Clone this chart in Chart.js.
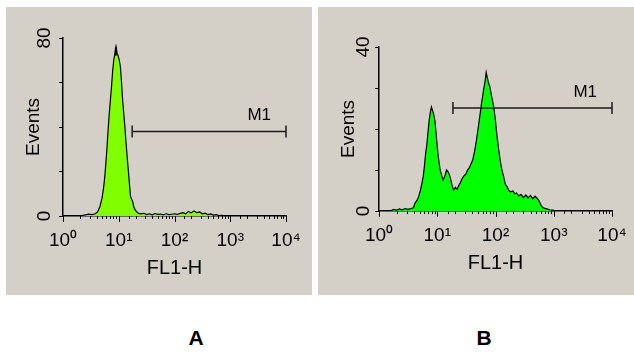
<!DOCTYPE html>
<html>
<head>
<meta charset="utf-8">
<script src="https://cdn.jsdelivr.net/npm/chart.js@4/dist/chart.umd.min.js"></script>
<style>
    body { margin: 0; background: #ffffff; width: 634px; height: 352px; position: relative; overflow: hidden; }
    canvas { position: absolute; background: #d4d0c8; }
    #panelA { left: 6px; top: 7px; }
    #panelB { left: 318px; top: 7px; }
    .tag { position: absolute; top: 326px; width: 40px; text-align: center;
           font: bold 21px 'Liberation Sans', Arial, sans-serif; color: #000; }
</style>
</head>
<body>
<canvas id="panelA" width="306" height="288"></canvas>
<canvas id="panelB" width="316" height="288"></canvas>
<div class="tag" style="left:176px">A</div>
<div class="tag" style="left:464px">B</div>
<script>
// x tick labels (log decades)
const xTickLabels = ['10\u2070', '10\u00b9', '10\u00b2', '10\u00b3', '10\u2074'];

// panel A: channel position (log10 of FL1-H) and events per channel
const logA = [0.30,0.40,0.46,0.52,0.58,0.62,0.66,0.70,0.73,0.75,0.77,0.79,0.81,0.83,0.85,0.87,0.89,0.91,0.93,0.94,
    0.95,0.96,0.97,0.99,1.01,1.03,1.05,1.07,1.09,1.11,1.13,1.15,1.17,1.19,1.21,1.23,1.25,1.27,1.30,1.34,
    1.38,1.45,1.50,1.55,1.60,1.65,1.70,1.75,1.80,1.85,1.90,1.95,2.00,2.05,2.10,2.15,2.20,2.25,2.30,2.35,
    2.40,2.45,2.50,2.55,2.60,2.65,2.70,2.75,2.80,2.85,2.90];
const eventsA = [0,0.5,0.8,0.6,1.0,1.8,4,8,13,18,24,31,39,46,52,58,65,70,73,75,
    72,75,73,72,70,67,60,52,46,40,33,27,21,15,9,7.5,6.5,4,2.5,1.5,
    1.0,1.2,0.6,1.0,0.5,1.1,0.7,0.9,0.5,1.0,0.6,0.8,1.0,0.7,1.2,1.5,1.0,2.0,1.4,2.3,
    1.5,1.8,1.0,1.3,0.6,0.9,0.4,0.6,0.2,0.3,0];

// panel B
const logB = [0.20,0.25,0.30,0.35,0.40,0.45,0.50,0.55,0.59,0.62,0.65,0.68,0.71,0.74,0.76,0.78,0.80,0.82,0.84,0.86,
    0.88,0.90,0.92,0.94,0.96,0.98,1.00,1.02,1.05,1.08,1.10,1.13,1.16,1.19,1.22,1.25,1.28,1.31,1.34,1.37,
    1.40,1.43,1.46,1.49,1.52,1.55,1.58,1.61,1.64,1.67,1.70,1.73,1.76,1.78,1.80,1.82,1.84,1.86,1.88,1.90,
    1.92,1.94,1.97,2.00,2.02,2.05,2.08,2.11,2.14,2.17,2.20,2.23,2.26,2.30,2.33,2.36,2.40,2.44,2.48,2.52,
    2.56,2.60,2.64,2.68,2.72,2.75,2.79,2.83,2.88,2.93,2.98,3.05];
const eventsB = [0,0.4,0.2,0.5,0.3,0.6,0.4,0.6,0.8,2.0,2.5,3.5,5,7,8.5,11,14,16,19,22,
    24,25.4,24.5,23.5,22,19,15.7,13,10,8.5,7.6,8.5,10,9.5,8.4,6.5,5.1,5.8,5.3,6.2,
    7,8,8.6,9,10,10.5,11.5,12.5,14.5,17,20,23,26.3,28,30,31.5,33.8,32.5,31.2,30.5,
    29,27.5,25.4,22,19,15.5,12.4,10,8.4,6.5,5.9,5.0,4.7,4.9,4.2,4.4,3.7,4.0,3.3,3.9,
    3.2,3.8,3.0,3.6,3.0,2.4,1.2,0.7,0.5,0.3,0.2,0];

// M1 gates: [start, end] on FL1-H and the height it is drawn at
const gateA = [17.4, 10000];
const gateLevelA = 38;
const gateB = [18.6, 10000];
const gateLevelB = 25.1;

const yMaxA = 80;
const yMaxB = 40;

const FONT = "'Liberation Sans', Arial, sans-serif";

class HistogramPanel {

    constructor(layout){
        this.layout = layout;
    }

    makeDataSet(logs, counts, colour){
        let points = new Array();
        for(let i=0; i<logs.length; i++){
            points.push({x: Math.pow(10, logs[i]), y: counts[i]});
        }
        return {
            data: points,
            borderColor: '#000000',
            borderWidth: 1.2,
            backgroundColor: colour,
            fill: 'origin',
            pointRadius: 0,
            tension: 0
        }
    }

    makeGate(gate, level){
        return {
            data: [{x: gate[0], y: level}, {x: gate[1], y: level}],
            borderColor: '#1a1a1a',
            borderWidth: 1.5,
            pointStyle: 'line',
            pointRotation: 90,
            pointRadius: 6,
            pointBorderWidth: 1.5,
            pointBorderColor: '#1a1a1a',
            fill: false,
            clip: false
        }
    }

    drawChart(ctx, logs, counts, colour, yMax, gate, level){
        let lay = this.layout;
        return new Chart(ctx, {
            type: 'line',
            data: {
                datasets: [this.makeGate(gate, level), this.makeDataSet(logs, counts, colour)]
            },
            options: {
                responsive: false,
                animation: false,
                events: [],
                layout: { padding: {left: 0, top: lay.top, right: lay.right, bottom: 0} },
                plugins: { legend: {display: false}, tooltip: {enabled: false} },
                scales: {
                    x: {
                        type: 'logarithmic',
                        min: 1,
                        max: 10000,
                        afterFit: (s) => { s.height = lay.bottom; },
                        grid: { display: false },
                        border: { display: true, color: '#000000', width: 1.5 },
                        ticks: {
                            autoSkip: false,
                            maxRotation: 0,
                            padding: 5,
                            color: '#000000',
                            font: {family: FONT, size: 19},
                            callback: (v) => {
                                let e = Math.log10(v);
                                return Math.abs(e - Math.round(e)) < 1e-9 ? xTickLabels[Math.round(e)] : '';
                            }
                        },
                        title: {
                            display: true,
                            text: 'FL1-H',
                            color: '#000000',
                            font: {family: FONT, size: 20},
                            padding: {top: 0, bottom: lay.titleX}
                        }
                    },
                    y: {
                        min: 0,
                        max: yMax,
                        afterFit: (s) => { s.width = lay.left; },
                        grid: { drawOnChartArea: false, drawTicks: true, tickLength: 4, color: '#000000' },
                        border: { display: true, color: '#000000', width: 1.5 },
                        ticks: {
                            stepSize: yMax / 4,
                            minRotation: 90,
                            maxRotation: 90,
                            crossAlign: 'center',
                            padding: lay.tickPad,
                            color: '#000000',
                            font: {family: FONT, size: 19},
                            callback: (v) => (v === 0 || v === yMax) ? String(v) : ''
                        },
                        title: {
                            display: true,
                            text: 'Events',
                            color: '#000000',
                            font: {family: FONT, size: 19},
                            padding: {top: lay.titleY, bottom: 0}
                        }
                    }
                }
            },
            plugins: [{
                id: 'flowMarks',
                afterDraw(chart){
                    let x = chart.scales.x;
                    let y = chart.scales.y;
                    let c = chart.ctx;
                    let base = chart.chartArea.bottom;
                    c.save();
                    c.strokeStyle = '#000000';
                    c.lineWidth = 1;
                    x.ticks.forEach(t => {
                        let e = Math.log10(t.value);
                        let major = Math.abs(e - Math.round(e)) < 1e-9;
                        let px = Math.round(x.getPixelForValue(t.value)) + 0.5;
                        c.beginPath();
                        c.moveTo(px, base);
                        c.lineTo(px, base + (major ? 6 : 3));
                        c.stroke();
                    });
                    // gate name, just above the right end of the gate
                    c.fillStyle = '#000000';
                    c.font = '17px ' + FONT;
                    c.textAlign = 'right';
                    c.textBaseline = 'alphabetic';
                    c.fillText('M1', x.getPixelForValue(gate[1]) - 15, y.getPixelForValue(level) - 11);
                    c.restore();
                }
            }]
        })
    }

}

new HistogramPanel({left: 57, top: 31, right: 26, bottom: 79, titleX: 15, titleY: 16, tickPad: 4})
    .drawChart(document.getElementById('panelA'), logA, eventsA, '#80ff00', yMaxA, gateA, gateLevelA);
new HistogramPanel({left: 61, top: 40, right: 22, bottom: 84, titleX: 20, titleY: 19, tickPad: 1})
    .drawChart(document.getElementById('panelB'), logB, eventsB, '#00ff00', yMaxB, gateB, gateLevelB);
</script>
</body>
</html>
